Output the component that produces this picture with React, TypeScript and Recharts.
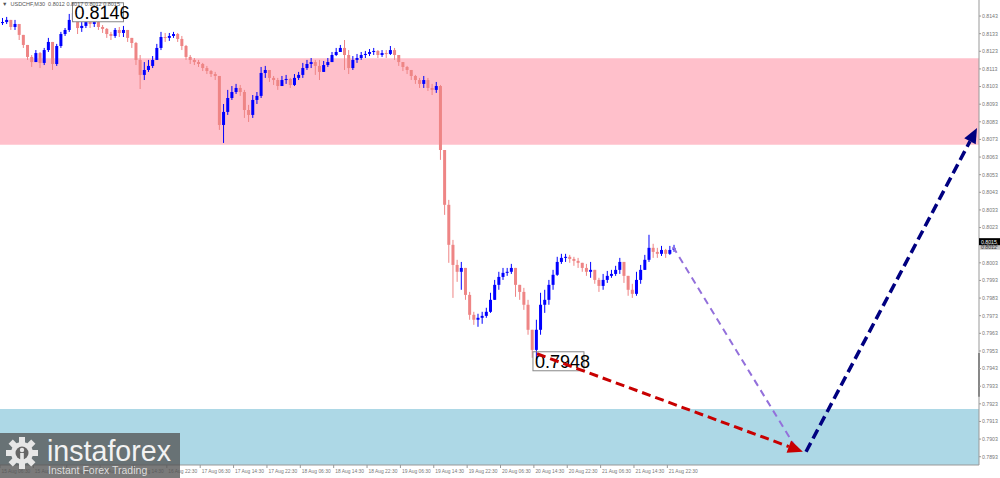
import { Bar, ComposedChart, ReferenceArea, ReferenceDot, ReferenceLine, XAxis, YAxis } from 'recharts';

// USDCHF M30, one candle per hour (x = hours from the first axis label)
const firstOpen = 0.8139;
const closes = [
  0.81396, 0.81408, 0.81368, 0.81385, 0.81323, 0.81266, 0.81198, 0.81169, 0.8122, 0.81164,
  0.81237, 0.81283, 0.81158, 0.8126, 0.81328, 0.81351, 0.81408, 0.81447, 0.81362, 0.81374,
  0.81396, 0.81385, 0.81396, 0.81368, 0.81357, 0.81328, 0.81317, 0.81351, 0.81334, 0.81351,
  0.81306, 0.81277, 0.81181, 0.81096, 0.81124, 0.81147, 0.81181, 0.81249, 0.81311, 0.81306,
  0.81317, 0.81328, 0.813, 0.8126, 0.81198, 0.81181, 0.81169, 0.81158, 0.81135, 0.81118,
  0.81101, 0.8109, 0.80812, 0.80886, 0.80965, 0.80999, 0.81022, 0.80999, 0.80897, 0.80869,
  0.80954, 0.80977, 0.81107, 0.81124, 0.81079, 0.81067, 0.81033, 0.81067, 0.81073, 0.81039,
  0.81079, 0.81096, 0.81135, 0.81158, 0.81169, 0.81147, 0.81113, 0.81152, 0.81169, 0.81209,
  0.81226, 0.81249, 0.81209, 0.81135, 0.81181, 0.81192, 0.81209, 0.81215, 0.81226, 0.81232,
  0.81209, 0.8122, 0.81215, 0.81237, 0.81209, 0.81169, 0.81141, 0.81124, 0.8109, 0.81067,
  0.81045, 0.81067, 0.81022, 0.81011, 0.81033, 0.8067, 0.80359, 0.80132, 0.80018, 0.79979,
  0.80001, 0.79848, 0.79735, 0.79707, 0.79718, 0.79729, 0.79752, 0.7982, 0.79905, 0.7995,
  0.79973, 0.79979, 0.80001, 0.79905, 0.79865, 0.79792, 0.7965, 0.79536, 0.7965, 0.79792,
  0.7982, 0.79905, 0.79962, 0.80035, 0.80058, 0.80064, 0.80052, 0.80041, 0.8003, 0.80001,
  0.79979, 0.7999, 0.79933, 0.79899, 0.79933, 0.79956, 0.79967, 0.7999, 0.80035, 0.79956,
  0.79877, 0.79854, 0.79933, 0.7999, 0.80047, 0.80115, 0.80092, 0.80081, 0.80103, 0.80081,
  0.80103, 0.80115,
];
const highs = [
  0.81419, 0.81425, 0.81408, 0.81408, 0.81385, 0.81323, 0.81266, 0.81209, 0.81237, 0.81226,
  0.81249, 0.81306, 0.81283, 0.81272, 0.8134, 0.81362, 0.81442, 0.81466, 0.81453, 0.81396,
  0.81408, 0.81408, 0.81413, 0.81408, 0.81379, 0.81362, 0.8134, 0.81362, 0.81368, 0.81374,
  0.81351, 0.81306, 0.81283, 0.81209, 0.81169, 0.81181, 0.81203, 0.81272, 0.8134, 0.81334,
  0.81334, 0.8134, 0.81334, 0.81317, 0.81266, 0.81209, 0.81192, 0.81181, 0.81164, 0.81147,
  0.81124, 0.81113, 0.8109, 0.80931, 0.81011, 0.81033, 0.81045, 0.81039, 0.81011, 0.80926,
  0.80982, 0.80999, 0.81141, 0.81147, 0.81113, 0.8109, 0.81079, 0.8109, 0.81096, 0.81079,
  0.81101, 0.81113, 0.81164, 0.81181, 0.81192, 0.81181, 0.81181, 0.81175, 0.81192, 0.81226,
  0.81249, 0.81266, 0.81294, 0.81237, 0.81203, 0.81215, 0.81226, 0.81232, 0.81243, 0.81249,
  0.81237, 0.81237, 0.81237, 0.8126, 0.81249, 0.81209, 0.81169, 0.81147, 0.81124, 0.81096,
  0.81079, 0.8109, 0.81079, 0.81045, 0.81056, 0.81039, 0.8067, 0.80387, 0.8016, 0.80047,
  0.80035, 0.80001, 0.79865, 0.79752, 0.79741, 0.79752, 0.79775, 0.7986, 0.79933, 0.79979,
  0.80001, 0.80001, 0.80024, 0.80001, 0.79905, 0.79888, 0.7982, 0.7965, 0.79707, 0.7986,
  0.79877, 0.79933, 0.7999, 0.80064, 0.80081, 0.80081, 0.80075, 0.80064, 0.80058, 0.8003,
  0.80024, 0.80035, 0.7999, 0.79945, 0.79967, 0.79984, 0.7999, 0.80013, 0.80058, 0.80035,
  0.79956, 0.79911, 0.79979, 0.80018, 0.80075, 0.80189, 0.80138, 0.80115, 0.80126, 0.80109,
  0.80126, 0.80132,
];
const lows = [
  0.81379, 0.81385, 0.81351, 0.81351, 0.81294, 0.81249, 0.81181, 0.81141, 0.81169, 0.81135,
  0.81152, 0.81226, 0.81124, 0.81147, 0.81249, 0.81317, 0.8134, 0.81396, 0.81328, 0.8134,
  0.81362, 0.81362, 0.81368, 0.81351, 0.81334, 0.81306, 0.81294, 0.81306, 0.81311, 0.81311,
  0.81283, 0.81249, 0.81152, 0.81016, 0.81067, 0.81113, 0.81135, 0.81181, 0.81237, 0.81283,
  0.81289, 0.81306, 0.81283, 0.81237, 0.81181, 0.81158, 0.81152, 0.81141, 0.81118, 0.81101,
  0.81084, 0.81067, 0.80784, 0.8071, 0.80869, 0.80954, 0.80988, 0.80977, 0.80852, 0.80829,
  0.80852, 0.80931, 0.80965, 0.81079, 0.81056, 0.81039, 0.81011, 0.81033, 0.81045, 0.81022,
  0.81033, 0.81067, 0.81079, 0.81124, 0.81135, 0.81096, 0.81067, 0.81113, 0.81141, 0.81181,
  0.81203, 0.81226, 0.81124, 0.81101, 0.81124, 0.81164, 0.81181, 0.81192, 0.81203, 0.81209,
  0.81192, 0.81198, 0.81192, 0.81209, 0.81181, 0.81147, 0.81118, 0.81101, 0.81067, 0.81045,
  0.81022, 0.81022, 0.81005, 0.80982, 0.80994, 0.80614, 0.80302, 0.8003, 0.79831, 0.79922,
  0.79877, 0.7982, 0.79707, 0.79678, 0.79667, 0.79684, 0.79718, 0.79746, 0.7982, 0.79877,
  0.79933, 0.79956, 0.79967, 0.79837, 0.7982, 0.79763, 0.79622, 0.79491, 0.7948, 0.79622,
  0.79746, 0.79792, 0.79877, 0.79956, 0.80024, 0.80035, 0.8003, 0.80013, 0.80001, 0.79979,
  0.79956, 0.79945, 0.79911, 0.79865, 0.79877, 0.79916, 0.79945, 0.79956, 0.79967, 0.79916,
  0.79843, 0.79831, 0.79843, 0.79911, 0.7999, 0.80035, 0.80058, 0.80058, 0.80069, 0.80058,
  0.80075, 0.80092,
];

const xTicks = [0, 8, 16, 24, 32, 40, 48, 56, 64, 72, 80, 88, 96, 104, 112, 120, 128, 136, 144, 152, 160];
const xTickLabels = [
  '15 Aug 06:30', '15 Aug 14:30', '15 Aug 22:30', '16 Aug 06:30', '16 Aug 14:30', '16 Aug 22:30',
  '17 Aug 06:30', '17 Aug 14:30', '17 Aug 22:30', '18 Aug 06:30', '18 Aug 14:30', '18 Aug 22:30',
  '19 Aug 06:30', '19 Aug 14:30', '19 Aug 22:30', '20 Aug 06:30', '20 Aug 14:30', '20 Aug 22:30',
  '21 Aug 06:30', '21 Aug 14:30', '21 Aug 22:30',
];
const yTicks = [
  0.7893, 0.7903, 0.7913, 0.7923, 0.7933, 0.7943, 0.7953, 0.7963, 0.7973, 0.7983, 0.7993, 0.8003,
  0.8013, 0.8023, 0.8033, 0.8043, 0.8053, 0.8063, 0.8073, 0.8083, 0.8093, 0.8103, 0.8113, 0.8123,
  0.8133, 0.8143,
];

// zones and wave forecast
const sellZone = [0.807, 0.8119];
const buyZone = [0.78883, 0.792];
const purplePath = [{ x: 161.35, y: 0.80121 }, { x: 191.1, y: 0.78969 }];
const redPath = [{ x: 128.75, y: 0.79514 }, { x: 192.5, y: 0.78958 }];
const navyPath = [{ x: 193.25, y: 0.78958 }, { x: 234.24, y: 0.80795 }];
const highMark = { x: 17.5, y: 0.8146, text: '0.8146' };
const lowMark = { x: 128.5, y: 0.7948, text: '0.7948' };
const lastPrice = 0.8015;
const bidPrice = 0.8012;
const scrollMark = [0.79519, 0.7927];

const X_MAX = 234.72;
const Y_DOMAIN = [0.78883, 0.81521];
const FONT = '"Liberation Sans", Arial, sans-serif';

const candles = closes.map((c, i) => {
  const o = i === 0 ? firstOpen : closes[i - 1];
  const hi = Math.max(highs[i], o, c);
  const lo = Math.min(lows[i], o, c);
  return { t: i + 0.5, range: [lo, hi], o, c };
});

const Candle = (props: any) => {
  const { x, y, width, height, payload } = props;
  const top = Math.min(y, y + height);
  const span = Math.abs(height);
  const [lo, hi] = payload.range;
  const pos = (v: number) => (hi === lo ? top : top + ((hi - v) / (hi - lo)) * span);
  const up = payload.c >= payload.o;
  const color = up ? '#0000ff' : '#ee8585';
  const cx = x + width / 2;
  const yo = pos(payload.o);
  const yc = pos(payload.c);
  return (
    <g>
      <line x1={cx} x2={cx} y1={top} y2={top + span} stroke={color} strokeWidth={1} />
      <rect x={x} y={Math.min(yo, yc)} width={width} height={Math.max(1, Math.abs(yo - yc))} fill={color} />
    </g>
  );
};

const arrowShape = (color: string, width: number, dash: string, head: boolean) => (p: any) => {
  const { x1, y1, x2, y2 } = p;
  const ang = Math.atan2(y2 - y1, x2 - x1);
  const len = head ? 15 : 0;
  const bx = x2 - len * Math.cos(ang);
  const by = y2 - len * Math.sin(ang);
  const w = 6.5;
  return (
    <g>
      <line x1={x1} y1={y1} x2={bx} y2={by} stroke={color} strokeWidth={width} strokeDasharray={dash} />
      {head && (
        <polygon
          points={`${x2},${y2} ${bx + w * Math.sin(ang)},${by - w * Math.cos(ang)} ${bx - w * Math.sin(ang)},${by + w * Math.cos(ang)}`}
          fill={color}
        />
      )}
    </g>
  );
};

const priceBox = (text: string, dx: number, dy: number, bg: string) => (p: any) => (
  <g>
    <rect x={p.cx + dx} y={p.cy + dy} width={51} height={19} fill={bg} stroke="#888" strokeWidth={1} />
    <text x={p.cx + dx + 2} y={p.cy + dy + 16} fontSize={18} fontFamily={FONT} fill="#000">
      {text}
    </text>
  </g>
);

const axisBox = (text: string, bg: string, fg: string, h: number) => (p: any) => (
  <g>
    <rect x={p.cx} y={p.cy - h / 2} width={21} height={h} fill={bg} />
    <text x={p.cx + 2} y={p.cy + 2} fontSize={5.2} fontFamily={FONT} fill={fg}>
      {text}
    </text>
  </g>
);

const XTick = (props: any) => {
  const { x, y, payload } = props;
  const idx = xTicks.indexOf(payload.value);
  return (
    <text x={x + 1.5} y={y + 3} fontSize={4.9} fontFamily={FONT} fill="#777" textAnchor="start">
      {xTickLabels[idx]}
    </text>
  );
};

const Logo = () => (
  <svg width={180} height={45} style={{ position: 'absolute', left: 0, top: 433 }}>
    <rect width={180} height={45} fill="rgba(85,85,85,0.78)" />
    <g transform="translate(22,20)" fill="#e6e6e6">
      {[0, 45, 90, 135, 180, 225, 270, 315].map((a) => (
        <rect key={a} x={-3} y={-16} width={6} height={7} transform={`rotate(${a})`} />
      ))}
      <circle r={11} />
      <circle r={6.5} fill="#666" />
      <circle cx={0} cy={-3} r={2.2} fill="#e6e6e6" />
      <rect x={-1.8} y={0} width={3.6} height={12} fill="#e6e6e6" />
    </g>
    <text x={47} y={28} fontSize={28.6} fontFamily={FONT} fill="#f2f2f2">
      instaforex
    </text>
    <text x={48} y={41} fontSize={10.5} fontFamily={FONT} fill="#dddddd">
      Instant Forex Trading
    </text>
  </svg>
);

export default function App() {
  return (
    <div style={{ position: 'absolute', left: 0, top: 0, width: 1000, height: 478, background: '#fff' }}>
      <ComposedChart width={1000} height={478} data={candles} margin={{ top: 0, right: 0, bottom: 0, left: 0 }}>
        <XAxis
          dataKey="t"
          type="number"
          domain={[0, X_MAX]}
          allowDataOverflow
          ticks={xTicks}
          tick={<XTick />}
          tickSize={3}
          tickLine={{ stroke: '#999' }}
          axisLine={{ stroke: '#999' }}
          height={13}
          interval={0}
        />
        <YAxis
          orientation="right"
          type="number"
          domain={Y_DOMAIN}
          allowDataOverflow
          ticks={yTicks}
          interval={0}
          width={21}
          tickSize={2}
          tickMargin={1}
          tickLine={{ stroke: '#999' }}
          axisLine={{ stroke: '#999' }}
          tick={{ fontSize: 5.2, fill: '#777', fontFamily: FONT }}
          tickFormatter={(v: number) => v.toFixed(4)}
        />
        <ReferenceArea y1={sellZone[0]} y2={sellZone[1]} fill="#ffc0cb" fillOpacity={1} stroke="none" ifOverflow="hidden" />
        <ReferenceArea y1={buyZone[0]} y2={buyZone[1]} fill="#add8e6" fillOpacity={1} stroke="none" ifOverflow="hidden" />
        <Bar dataKey="range" barSize={3} shape={<Candle />} isAnimationActive={false} />
        <ReferenceDot x={highMark.x} y={highMark.y} ifOverflow="visible" shape={priceBox(highMark.text, -0.5, -8, '#fff')} />
        <ReferenceDot x={lowMark.x} y={lowMark.y} ifOverflow="visible" shape={priceBox(lowMark.text, -3, -8, 'none')} />
        <ReferenceLine segment={purplePath} ifOverflow="visible" zIndex={700} shape={arrowShape('#9370db', 2, '7 5', false)} />
        <ReferenceLine segment={redPath} ifOverflow="visible" zIndex={700} shape={arrowShape('#c80000', 3, '9 5', true)} />
        <ReferenceLine segment={navyPath} ifOverflow="visible" zIndex={700} shape={arrowShape('#000080', 3.5, '10 5', true)} />
        <ReferenceLine
          segment={[{ x: X_MAX, y: scrollMark[0] }, { x: X_MAX, y: scrollMark[1] }]}
          ifOverflow="visible"
          stroke="#777"
          strokeWidth={2}
        />
        <ReferenceDot x={X_MAX} y={bidPrice} ifOverflow="visible" shape={axisBox(bidPrice.toFixed(4), '#c8c8c8', '#333', 5.5)} />
        <ReferenceDot x={X_MAX} y={lastPrice} ifOverflow="visible" shape={axisBox(lastPrice.toFixed(4), '#000', '#fff', 7)} />
      </ComposedChart>
      <div
        style={{ position: 'absolute', left: 2, top: 1, fontSize: 5.5, fontFamily: FONT, color: '#555', whiteSpace: 'pre', lineHeight: '7px' }}
      >
        {'\u25BC  USDCHF,M30  0.8012 0.8017 0.8012 0.8015'}
      </div>
      <Logo />
    </div>
  );
}
